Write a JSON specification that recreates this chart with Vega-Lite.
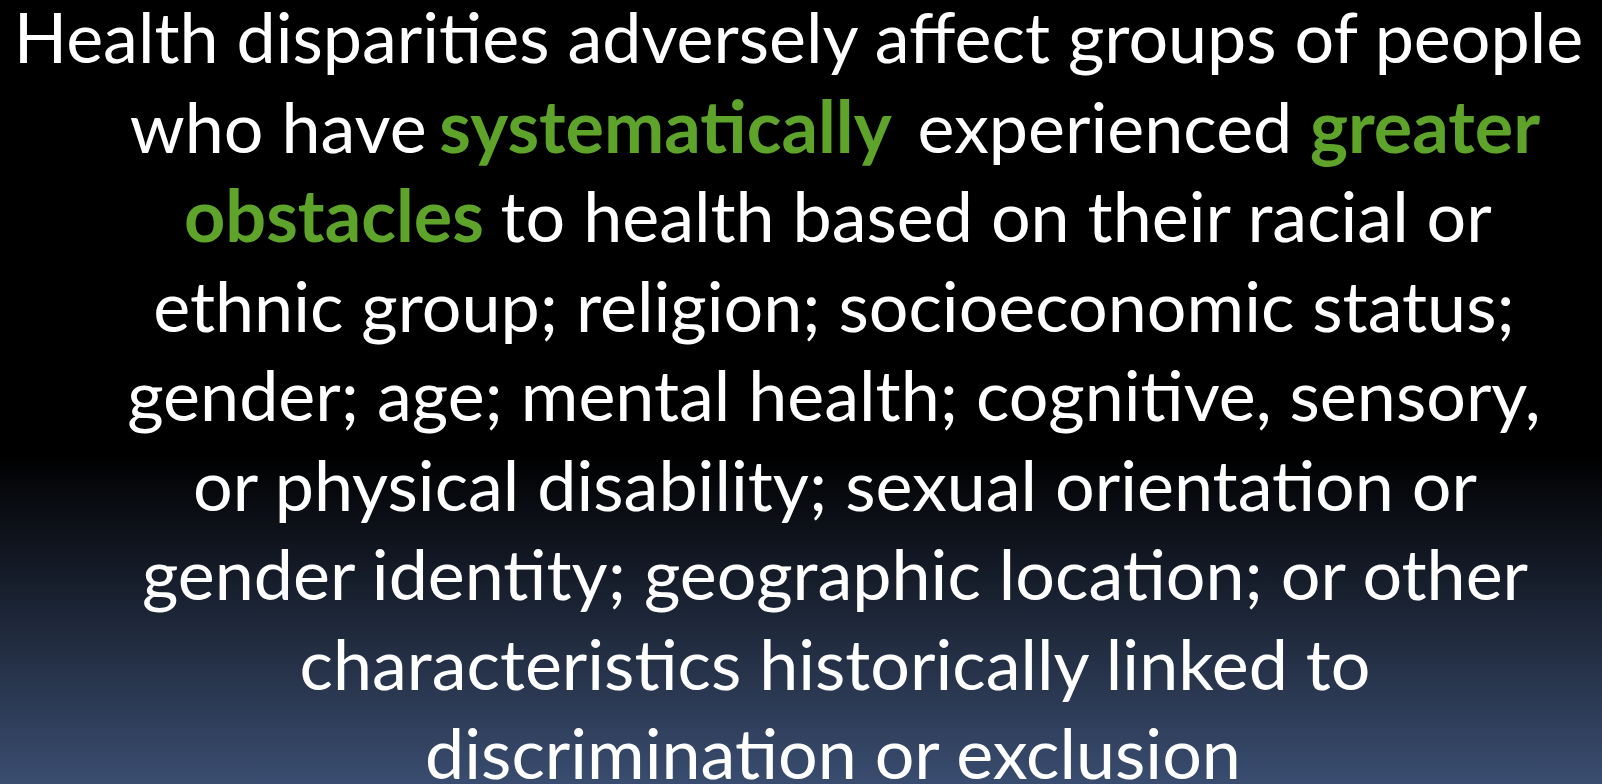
{
  "$schema": "https://vega.github.io/schema/vega-lite/v6.json",
  "width": 1602,
  "height": 784,
  "autosize": {"type": "none"},
  "padding": 0,
  "background": "#000000",
  "config": {"view": {"stroke": null}, "axis": {"disable": true}},
  "datasets": {
    "bg": [{"x0": 0, "x1": 1602, "y0": 0.2927, "y1": 9.0525}],
    "lines": [
      {"role": "center", "line": 1, "pos": 798.5, "t": "Health disparities adversely affect groups of people"},
      {"role": "plain", "line": 2, "pos": 129.8, "t": "who have"},
      {"role": "green", "line": 2, "pos": 439.3, "t": "systematically"},
      {"role": "plain", "line": 2, "pos": 917.5, "t": "experienced"},
      {"role": "green", "line": 2, "pos": 1310, "t": "greater"},
      {"role": "green", "line": 3, "pos": 184, "t": "obstacles"},
      {"role": "plain", "line": 3, "pos": 500.6, "t": "to health based on their racial or"},
      {"role": "center", "line": 4, "pos": 834, "t": "ethnic group; religion; socioeconomic status;"},
      {"role": "center", "line": 5, "pos": 834, "t": "gender; age; mental health; cognitive, sensory,"},
      {"role": "center", "line": 6, "pos": 835, "t": "or physical disability; sexual orientation or"},
      {"role": "center", "line": 7, "pos": 835, "t": "gender identity; geographic location; or other"},
      {"role": "center", "line": 8, "pos": 835, "t": "characteristics historically linked to"},
      {"role": "center", "line": 9, "pos": 833, "t": "discrimination or exclusion"}
    ]
  },
  "layer": [
    {
      "data": {"name": "bg"},
      "mark": {
        "type": "rect",
        "color": {
          "gradient": "linear", "x1": 0, "y1": 0, "x2": 0, "y2": 1,
          "stops": [
            {"offset": 0, "color": "#000000"},
            {"offset": 0.58, "color": "#000000"},
            {"offset": 1, "color": "#3a4d70"}
          ]
        }
      },
      "encoding": {
        "x": {"field": "x0", "type": "quantitative", "scale": {"domain": [0, 1602], "nice": false, "zero": false}, "axis": null},
        "x2": {"field": "x1"},
        "y": {"field": "y0", "type": "quantitative", "scale": {"domain": [0.2927, 9.0525], "reverse": true, "nice": false, "zero": false}, "axis": null},
        "y2": {"field": "y1"}
      }
    },
    {
      "data": {"name": "lines"},
      "transform": [{"filter": "datum.role === 'center'"}],
      "mark": {"type": "text", "align": "center", "baseline": "alphabetic", "font": "Lato", "fontSize": 70, "color": "#ffffff"},
      "encoding": {
        "x": {"field": "pos", "type": "quantitative"},
        "y": {"field": "line", "type": "quantitative"},
        "text": {"field": "t"}
      }
    },
    {
      "data": {"name": "lines"},
      "transform": [{"filter": "datum.role === 'plain'"}],
      "mark": {"type": "text", "align": "left", "baseline": "alphabetic", "font": "Lato", "fontSize": 70, "color": "#ffffff"},
      "encoding": {
        "x": {"field": "pos", "type": "quantitative"},
        "y": {"field": "line", "type": "quantitative"},
        "text": {"field": "t"}
      }
    },
    {
      "data": {"name": "lines"},
      "transform": [{"filter": "datum.role === 'green'"}],
      "mark": {"type": "text", "align": "left", "baseline": "alphabetic", "font": "Lato", "fontSize": 72, "fontWeight": "bold", "color": "#5ea32a"},
      "encoding": {
        "x": {"field": "pos", "type": "quantitative"},
        "y": {"field": "line", "type": "quantitative"},
        "text": {"field": "t"}
      }
    }
  ]
}
